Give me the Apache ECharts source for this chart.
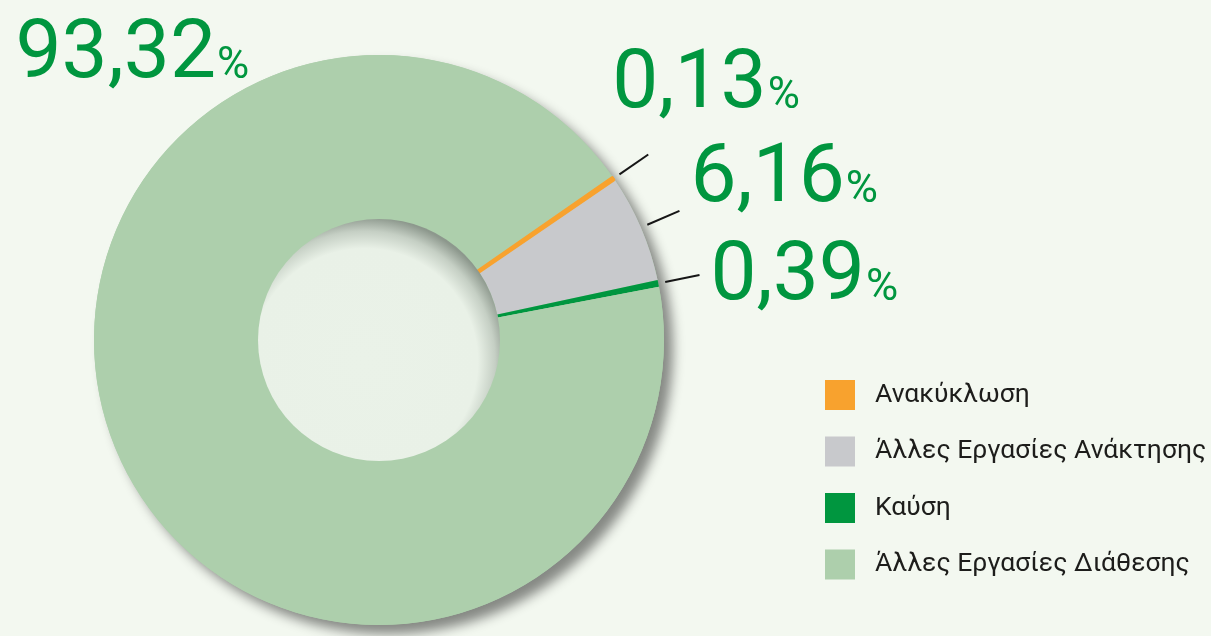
<!DOCTYPE html>
<html>
<head>
<meta charset="utf-8">
<script src="https://cdn.jsdelivr.net/npm/echarts@6/dist/echarts.min.js"></script>
<style>
  html, body { margin: 0; padding: 0; background: #f3f8f0; }
  #chart { width: 1211px; height: 636px; }
</style>
</head>
<body>
<div id="chart"></div>
<script>
// Waste treatment shares (%)
const categories = ['Ανακύκλωση', 'Άλλες Εργασίες Ανάκτησης', 'Καύση', 'Άλλες Εργασίες Διάθεσης'];
const shares = [0.13, 6.16, 0.39, 93.32];
const valueLabels = ['0,13', '6,16', '0,39', '93,32'];
const colors = ['#f8a22e', '#c8c9cc', '#00963f', '#adcfac'];

// ring geometry
const CENTER = [379, 340];
const R_OUT = 285;
const R_IN = 121;
const START_ANGLE = 34.8;

// offsets of each value label from its outside anchor: [dx, dy, align]
const labelNudge = [[-41, -68], [6, -30], [6, 3], [-57, -410, 'left']];

const green = '#00963f';
const clear = 'rgba(0,0,0,0)';

const chart = echarts.init(document.getElementById('chart'), null, { renderer: 'canvas' });

chart.setOption({
  backgroundColor: '#f3f8f0',
  animation: false,
  legend: {
    data: categories,
    orient: 'vertical',
    left: 820,
    top: 375,
    itemWidth: 30,
    itemHeight: 30,
    itemGap: 26.5,
    icon: 'rect',
    selectedMode: false,
    itemStyle: { borderWidth: 0 },
    textStyle: {
      fontFamily: 'Roboto',
      fontSize: 26.5,
      color: '#1d1d1b',
      padding: [0, 0, 0, 15]
    }
  },
  series: [
    // soft drop shadow under the ring
    {
      type: 'pie',
      name: 'base',
      silent: true,
      z: 1,
      center: CENTER,
      radius: [0, R_OUT],
      label: { show: false },
      labelLine: { show: false },
      emphasis: { disabled: true },
      itemStyle: {
        color: colors[3],
        borderWidth: 0,
        shadowBlur: 12,
        shadowOffsetX: 9,
        shadowOffsetY: 9,
        shadowColor: 'rgba(0,0,0,0.45)'
      },
      data: [{ value: 1, name: 'base' }]
    },
    // the ring itself with value labels
    {
      type: 'pie',
      name: 'shares',
      z: 2,
      center: CENTER,
      radius: [R_IN, R_OUT],
      startAngle: START_ANGLE,
      clockwise: true,
      avoidLabelOverlap: false,
      emphasis: { disabled: true },
      itemStyle: { borderWidth: 0 },
      label: {
        show: true,
        position: 'outside',
        formatter: p => `{num|${valueLabels[p.dataIndex]}}{pct|%}`,
        rich: {
          num: { fontFamily: 'Roboto', fontSize: 82, color: green },
          pct: { fontFamily: 'Roboto', fontSize: 44, color: green, padding: [21, 0, 0, 1] }
        }
      },
      labelLine: { show: false, length: 42, length2: 0 },
      labelLayout: p => {
        const n = labelNudge[p.dataIndex];
        const o = { dx: n[0], dy: n[1] };
        if (n[2]) o.align = n[2];
        return o;
      },
      data: categories.map((name, i) => ({ name, value: shares[i], itemStyle: { color: colors[i] } }))
    },
    // the thin recycling slice, re-drawn on top with an outline so it stays legible
    {
      type: 'pie',
      name: 'accent',
      silent: true,
      z: 3,
      center: CENTER,
      radius: [R_IN, R_OUT - 1],
      startAngle: START_ANGLE,
      clockwise: true,
      emphasis: { disabled: true },
      label: { show: false },
      labelLine: { show: false },
      data: categories.map((name, i) => ({
        name,
        value: shares[i],
        itemStyle: i === 0
          ? { color: colors[i], borderColor: colors[i], borderWidth: 3.5, borderJoin: 'round' }
          : { color: clear, borderWidth: 0 }
      }))
    },
    // short leader ticks, detached from the ring edge
    {
      type: 'pie',
      name: 'ticks',
      silent: true,
      z: 3,
      center: CENTER,
      radius: [R_OUT + 6, R_OUT + 7],
      startAngle: START_ANGLE,
      clockwise: true,
      avoidLabelOverlap: false,
      emphasis: { disabled: true },
      itemStyle: { color: clear, borderWidth: 0, borderColor: clear },
      label: { show: true, position: 'outside', formatter: ' ', fontSize: 1 },
      labelLine: { show: true, length: 35, length2: 0, lineStyle: { color: '#161616', width: 2 } },
      data: categories.map((name, i) => ({
        name,
        value: shares[i],
        label: { show: i < 3 },
        labelLine: { show: i < 3 }
      }))
    },
    // recessed centre of the ring
    {
      type: 'pie',
      name: 'hole',
      silent: true,
      z: 4,
      center: CENTER,
      radius: [0, R_IN],
      label: { show: false },
      labelLine: { show: false },
      emphasis: { disabled: true },
      itemStyle: {
        borderWidth: 0,
        color: {
          type: 'radial', x: 0.44, y: 0.59, r: 0.6,
          colorStops: [
            { offset: 0, color: '#eaf2e8' },
            { offset: 0.78, color: '#e9f1e7' },
            { offset: 0.9, color: '#c5cfc4' },
            { offset: 1, color: '#8d988d' }
          ]
        }
      },
      data: [{ value: 1, name: 'hole' }]
    }
  ]
});
</script>
</body>
</html>
